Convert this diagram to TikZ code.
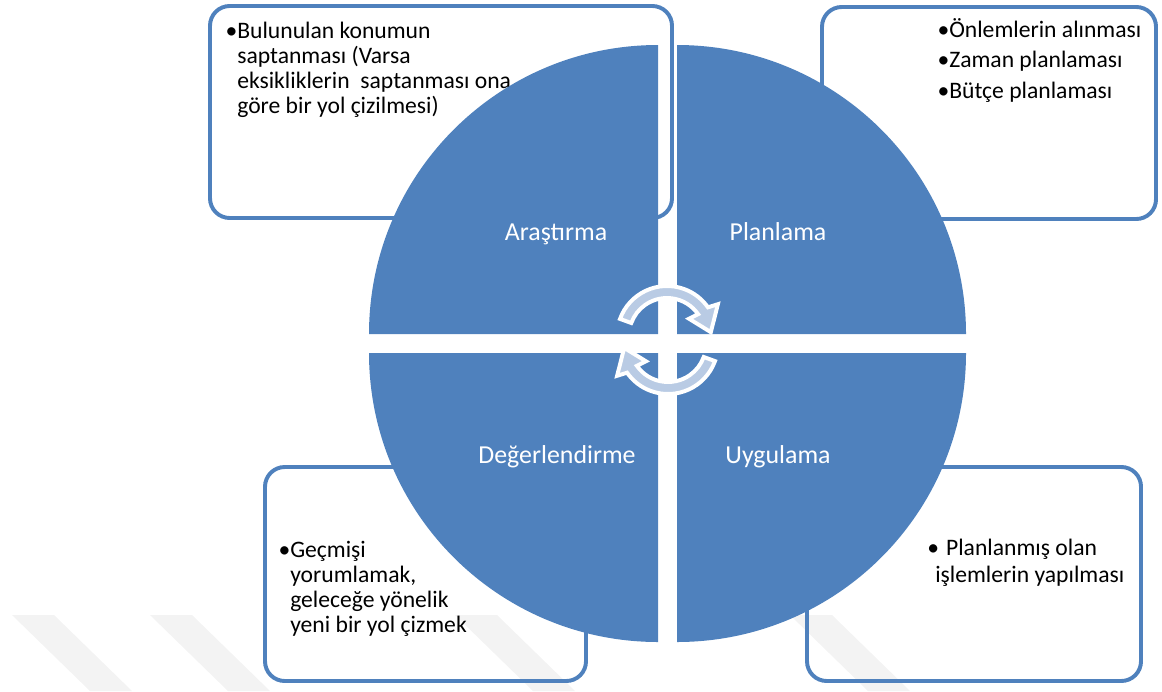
\documentclass[tikz,border=0pt]{standalone}
\usepackage{fontspec}
\setmainfont{Carlito}
\usepackage{tikz}
\usetikzlibrary{calc}
\definecolor{quadblue}{RGB}{79,129,189}
\definecolor{cyclefill}{RGB}{185,203,228}
\definecolor{markgray}{RGB}{243,243,243}
\tikzset{
  quad/.style={fill=quadblue},
  infobox/.style={draw=quadblue, line width=2.8pt, rounded corners=14pt},
  boxtext/.style={font=\fontsize{16.8}{17.7}\selectfont, align=left, inner sep=0pt, anchor=base west},
  qlabel/.style={font=\fontsize{18.4}{22}\selectfont, text=white, inner sep=0pt, anchor=base},
  cyclearrow/.style={fill=cyclefill, draw=white, line width=2.8pt, line join=miter}
}

\begin{document}
\begin{tikzpicture}[x=0.025cm, y=-0.025cm]
  \useasboundingbox (0,0) rectangle (1162,691);
  % watermark stripes
  \foreach \sx in {12,150,455,790} {
    \fill[markgray] (\sx,615) -- ++(42,0) -- ++(78,76) -- ++(-42,0) -- cycle;
  }
  % boxes
  \draw[infobox] (210,6) rectangle (672,218);
  \draw[infobox] (822,7) rectangle (1156,219);
  \draw[infobox] (265,467) rectangle (586,681);
  \draw[infobox] (807,467) rectangle (1141,681);
  % box texts (anchored at the last line)
  \node[boxtext] (arastext) at (237,113) {\llap{•}Bulunulan konumun\\saptanması (Varsa\\eksikliklerin\ \ saptanması ona\\göre bir yol çizilmesi)};
  \node[boxtext] (plantext) at (949,98) {\llap{•}Önlemlerin alınması\\[3.8pt]\llap{•}Zaman planlaması\\[3.8pt]\llap{•}Bütçe planlaması};
  \node[boxtext] (degtext) at (290,632) {\llap{•}Geçmişi\\yorumlamak,\\geleceğe yönelik\\yeni bir yol çizmek};
  \node[boxtext] (uygtext) at (935,582) {\hspace*{-0.34em}•\hspace{0.3em}Planlanmış olan\\[1.4pt]işlemlerin yapılması};
  % quadrants
  \fill[quad] (658,334) -- ++(-289,0) arc[start angle=180, end angle=270, radius=289] -- cycle;
  \fill[quad] (677,334) -- ++(0,-289) arc[start angle=270, end angle=360, radius=289] -- cycle;
  \fill[quad] (677,353) -- ++(289,0) arc[start angle=0, end angle=90, radius=289] -- cycle;
  \fill[quad] (658,353) -- ++(0,289) arc[start angle=90, end angle=180, radius=289] -- cycle;
  % quadrant labels
  \node[qlabel] (arastirma) at (556,240) {Araştırma};
  \node[qlabel] (planlama) at (778,240) {Planlama};
  \node[qlabel] (degerlendirme) at (557,463) {Değerlendirme};
  \node[qlabel] (uygulama) at (778,463) {Uygulama};
  % cycle arrows
  \coordinate (c1) at (667,336);
  \coordinate (c2) at (668,344);
  \draw[cyclearrow] ($(c1)+(200:50)$) arc[start angle=200, end angle=325, radius=50]
    -- ($(c1)+(328:60)$) -- ($(c1)+(355:44)$) -- ($(c1)+(322:28)$)
    -- ($(c1)+(325:38)$) arc[start angle=325, end angle=200, radius=38] -- cycle;
  \draw[cyclearrow] ($(c2)+(20:50)$) arc[start angle=20, end angle=145, radius=50]
    -- ($(c2)+(148:60)$) -- ($(c2)+(175:44)$) -- ($(c2)+(142:28)$)
    -- ($(c2)+(145:38)$) arc[start angle=145, end angle=20, radius=38] -- cycle;
\end{tikzpicture}
\end{document}
